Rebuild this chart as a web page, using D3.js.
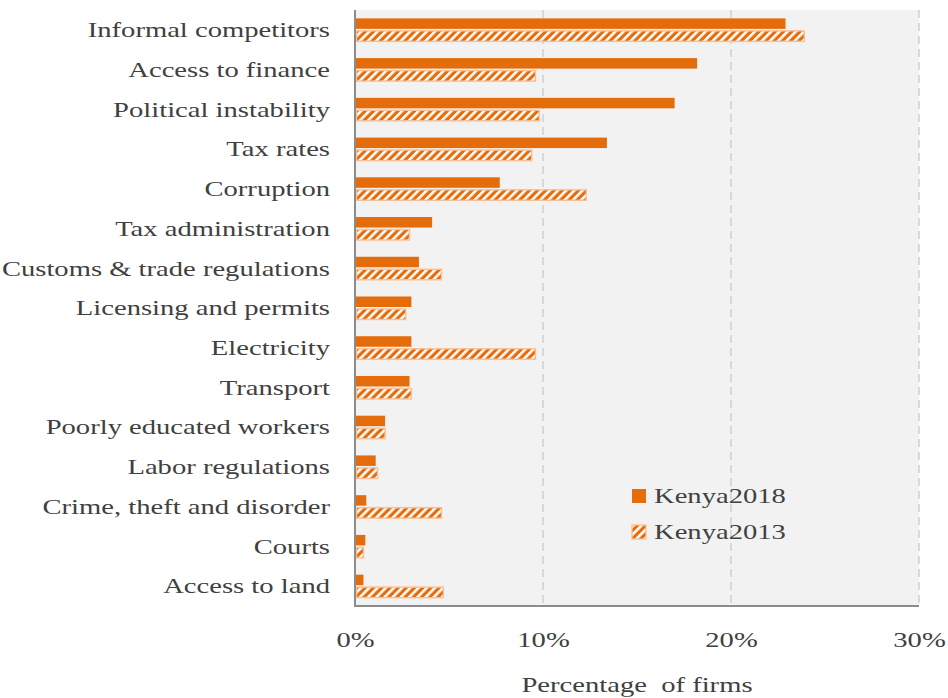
<!DOCTYPE html>
<html>
<head>
<meta charset="utf-8">
<script src="https://cdn.jsdelivr.net/npm/d3@7/dist/d3.min.js"></script>
<style>
  html, body { margin: 0; padding: 0; background: #ffffff; }
  svg { display: block; }
  text { font-family: "Liberation Serif", "DejaVu Serif", serif; fill: #404040; }
</style>
</head>
<body>
<svg id="chart" width="948" height="698"></svg>
<script>
// Obstacles ranked by share of firms (%)
const categories = [
  "Informal competitors", "Access to finance", "Political instability", "Tax rates",
  "Corruption", "Tax administration", "Customs & trade regulations",
  "Licensing and permits", "Electricity", "Transport", "Poorly educated workers",
  "Labor regulations", "Crime, theft and disorder", "Courts", "Access to land"
];
const kenya2018 = [22.9, 18.2, 17.0, 13.4, 7.7, 4.1, 3.4, 3.0, 3.0, 2.9, 1.6, 1.1, 0.6, 0.55, 0.45];
const kenya2013 = [23.9, 9.6, 9.8, 9.4, 12.3, 2.9, 4.6, 2.7, 9.6, 3.0, 1.6, 1.2, 4.6, 0.45, 4.7];
const seriesNames = ["Kenya2018", "Kenya2013"];
const xTicks = [0, 10, 20, 30];

const orange = "#e46c0a";
const hatchEdge = "#f9bf94";
const fontSize = 22;
const widen = 1.3;   // wide old-style serif look

const svg = d3.select("#chart");
const plot = { left: 355, right: 919, top: 10, bottom: 606 };

const x = d3.scaleLinear().domain([0, 30]).range([plot.left, plot.right]);
const y = d3.scaleBand().domain(categories).range([plot.top, plot.bottom]);

// Stretch text horizontally while keeping its anchor
function stretch(sel) {
  sel.each(function () {
    const len = this.getComputedTextLength();
    d3.select(this).attr("textLength", len * widen).attr("lengthAdjust", "spacingAndGlyphs");
  });
}

// Hatch pattern for the 2013 series
const defs = svg.append("defs");
const pw = 5.8;
const pat = defs.append("pattern")
  .attr("id", "hatch")
  .attr("patternUnits", "userSpaceOnUse")
  .attr("width", pw).attr("height", pw)
  .attr("patternTransform", "rotate(45)");
pat.append("rect").attr("width", pw).attr("height", pw).attr("fill", orange);
pat.append("rect").attr("width", 2.6).attr("height", pw).attr("fill", "#ffffff");

// Plot background
svg.append("rect")
  .attr("x", plot.left).attr("y", plot.top)
  .attr("width", plot.right - plot.left).attr("height", plot.bottom - plot.top)
  .attr("fill", "#f2f2f2");

// Dashed vertical gridlines
svg.append("g").selectAll("line")
  .data(xTicks.filter(d => d > 0))
  .join("line")
  .attr("x1", d => x(d)).attr("x2", d => x(d))
  .attr("y1", plot.top).attr("y2", plot.bottom)
  .attr("stroke", "#d0d0d0").attr("stroke-width", 1.5)
  .attr("stroke-dasharray", "8,5");

// Bars
const barH = 10.5;
const groups = svg.append("g").selectAll("g")
  .data(categories)
  .join("g")
  .attr("transform", d => `translate(0,${y(d) + y.bandwidth() / 2})`);

groups.append("rect")
  .attr("x", x(0) + 1)
  .attr("y", -barH - 1)
  .attr("width", (d, i) => x(kenya2018[i]) - x(0) - 1)
  .attr("height", barH)
  .attr("fill", orange);

groups.append("rect")
  .attr("x", x(0) + 1.5)
  .attr("y", 1)
  .attr("width", (d, i) => x(kenya2013[i]) - x(0) - 1.5)
  .attr("height", barH)
  .attr("fill", "url(#hatch)")
  .attr("stroke", hatchEdge).attr("stroke-width", 1.4);

// Category labels
svg.append("g").selectAll("text")
  .data(categories)
  .join("text")
  .attr("x", 330)
  .attr("y", d => y(d) + y.bandwidth() / 2)
  .attr("dy", "0.33em")
  .attr("text-anchor", "end")
  .attr("font-size", fontSize)
  .text(d => d)
  .call(stretch);

// Axis lines
svg.append("line")
  .attr("x1", plot.left).attr("x2", plot.left)
  .attr("y1", plot.top).attr("y2", plot.bottom)
  .attr("stroke", "#8c8c8c").attr("stroke-width", 2);
svg.append("line")
  .attr("x1", plot.left - 1).attr("x2", plot.right)
  .attr("y1", plot.bottom).attr("y2", plot.bottom)
  .attr("stroke", "#8c8c8c").attr("stroke-width", 2);

// X tick labels
const xAxis = d3.axisBottom(x).tickValues(xTicks).tickFormat(d => d + "%").tickSize(0).tickPadding(0);
const gx = svg.append("g").attr("transform", `translate(0,${plot.bottom})`).call(xAxis);
gx.select(".domain").remove();
gx.selectAll("text")
  .attr("y", 41)
  .attr("dy", 0)
  .attr("font-size", fontSize)
  .attr("fill", "#404040")
  .style("font-family", '"Liberation Serif", serif')
  .call(stretch);

// Axis title
svg.append("text")
  .attr("x", x(15))
  .attr("y", 692)
  .attr("text-anchor", "middle")
  .attr("font-size", fontSize)
  .attr("xml:space", "preserve")
  .text("Percentage  of firms")
  .call(stretch);

// Legend
const legend = svg.append("g").attr("transform", "translate(632,489)");
const items = legend.selectAll("g").data(seriesNames).join("g")
  .attr("transform", (d, i) => `translate(0,${i * 36})`);
items.append("rect")
  .attr("width", 14).attr("height", 14)
  .attr("fill", (d, i) => i === 0 ? orange : "url(#hatch)")
  .attr("stroke", (d, i) => i === 0 ? "none" : hatchEdge)
  .attr("stroke-width", 1.4);
items.append("text")
  .attr("x", 22).attr("y", 14)
  .attr("font-size", fontSize)
  .text(d => d)
  .call(stretch);
</script>
</body>
</html>
